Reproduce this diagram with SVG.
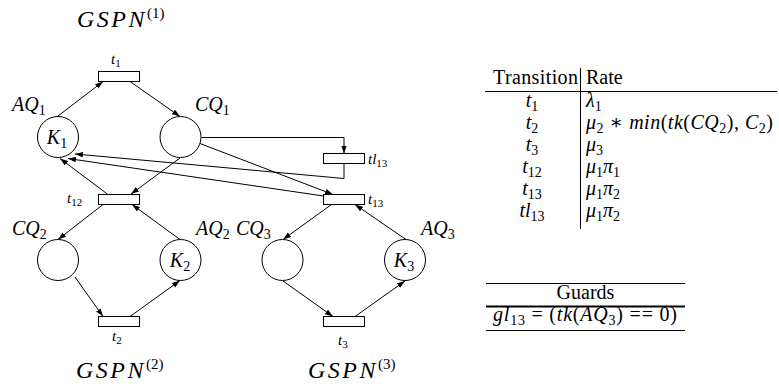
<svg xmlns="http://www.w3.org/2000/svg" width="779" height="392" viewBox="0 0 779 392" font-family="'Liberation Serif', 'DejaVu Serif', serif">
<style>
.pl{fill:#fff;stroke:#000;stroke-width:1}
.tr{fill:#fff;stroke:#000;stroke-width:1}
.arc{fill:none;stroke:#000;stroke-width:1;marker-end:url(#ah)}
.rule{stroke:#000;stroke-width:1;fill:none}
text{font-family:"Liberation Serif","DejaVu Serif",serif;fill:#000}
.m{font-style:italic}
.up{font-style:normal}
.pn{font-size:20px}
.tn{font-size:15px}
.tb{font-size:20px}
.g{font-size:24px;font-style:italic}
</style>
<defs>
<marker id="ah" markerWidth="9" markerHeight="6" refX="8" refY="2.75" orient="auto" markerUnits="userSpaceOnUse">
<path d="M0,0 L8,2.75 L0,5.5 z" fill="#000"/>
</marker>
</defs>

<g id="connectors">
<path class="arc" d="M58,116 L103,81.5"/>
<path class="arc" d="M130,81.5 L180,116.5"/>
<path class="arc" d="M180,158 L131,194"/>
<path class="arc" d="M108,194.5 L60,158.5"/>
<path class="arc" d="M103,204.5 L58,239.5"/>
<path class="arc" d="M180,239.5 L132,204.5"/>
<path class="arc" d="M75,277 L103,316.5"/>
<path class="arc" d="M130,316.5 L180,280.5"/>
<path class="arc" d="M331.5,204.5 L283,239.5"/>
<path class="arc" d="M406,239.5 L355,204.5"/>
<path class="arc" d="M283,281 L333,316.5"/>
<path class="arc" d="M355,316.5 L405,281"/>
<path class="arc" d="M201.5,137.5 H344 V153.5"/>
<path class="arc" d="M344,163.5 V178.5 L75,154"/>
<path class="arc" d="M323.5,196 L68,158.5"/>
<path class="arc" d="M200,143.5 L333,194.5"/>
</g>

<g id="AQ1">
<circle class="pl" cx="58" cy="137" r="20.5"/>
<text class="m pn" x="57" y="144" text-anchor="middle">K<tspan class="up" font-size="14" dy="4">1</tspan></text>
<text class="m pn" x="12" y="111">AQ<tspan class="up" font-size="14" dy="4">1</tspan></text>
</g>
<g id="CQ1">
<circle class="pl" cx="180.5" cy="137" r="20.5"/>
<text class="m pn" x="195" y="111">CQ<tspan class="up" font-size="14" dy="4">1</tspan></text>
</g>
<g id="t1">
<rect class="tr" x="98.5" y="71.5" width="41" height="10"/>
<text class="m tn" x="111" y="64">t<tspan class="up" font-size="11" dy="3">1</tspan></text>
</g>
<g id="t12">
<rect class="tr" x="98.5" y="194.5" width="41" height="10"/>
<text class="m tn" x="67" y="203">t<tspan class="up" font-size="11" dy="3">12</tspan></text>
</g>
<g id="CQ2">
<circle class="pl" cx="58" cy="260" r="20.5"/>
<text class="m pn" x="12" y="235">CQ<tspan class="up" font-size="14" dy="4">2</tspan></text>
</g>
<g id="AQ2">
<circle class="pl" cx="180.5" cy="260" r="20.5"/>
<text class="m pn" x="180" y="267" text-anchor="middle">K<tspan class="up" font-size="14" dy="4">2</tspan></text>
<text class="m pn" x="196" y="235">AQ<tspan class="up" font-size="14" dy="4">2</tspan></text>
</g>
<g id="t2">
<rect class="tr" x="98.5" y="316.5" width="41" height="10"/>
<text class="m tn" x="112" y="341">t<tspan class="up" font-size="11" dy="3">2</tspan></text>
</g>
<g id="tl13">
<rect class="tr" x="323.5" y="153.5" width="41" height="10"/>
<text class="m tn" x="368" y="164">tl<tspan class="up" font-size="11" dy="3">13</tspan></text>
</g>
<g id="t13">
<rect class="tr" x="323.5" y="194.5" width="41" height="10"/>
<text class="m tn" x="368" y="204">t<tspan class="up" font-size="11" dy="3">13</tspan></text>
</g>
<g id="CQ3">
<circle class="pl" cx="282.5" cy="260" r="20.5"/>
<text class="m pn" x="236" y="235">CQ<tspan class="up" font-size="14" dy="4">3</tspan></text>
</g>
<g id="AQ3">
<circle class="pl" cx="405" cy="260" r="20.5"/>
<text class="m pn" x="404" y="267" text-anchor="middle">K<tspan class="up" font-size="14" dy="4">3</tspan></text>
<text class="m pn" x="421" y="235">AQ<tspan class="up" font-size="14" dy="4">3</tspan></text>
</g>
<g id="t3">
<rect class="tr" x="323.5" y="316.5" width="41" height="10"/>
<text class="m tn" x="338" y="345">t<tspan class="up" font-size="11" dy="3">3</tspan></text>
</g>

<g id="titles">
<text class="g" x="77" y="27" letter-spacing="2.5">GSPN<tspan class="up" font-size="15" dy="-9" letter-spacing="0">(1)</tspan></text>
<text class="g" x="76" y="378" letter-spacing="2.5">GSPN<tspan class="up" font-size="15" dy="-9" letter-spacing="0">(2)</tspan></text>
<text class="g" x="308" y="378" letter-spacing="2.5">GSPN<tspan class="up" font-size="15" dy="-9" letter-spacing="0">(3)</tspan></text>
</g>

<g id="rate-table">
<line class="rule" x1="580.5" y1="68" x2="580.5" y2="229"/>
<line class="rule" x1="485" y1="91.5" x2="777" y2="91.5"/>
<text class="tb" x="535.5" y="84" text-anchor="middle" textLength="85">Transition</text>
<text class="tb" x="586" y="84">Rate</text>
<text class="tb m" x="532" y="107" text-anchor="middle">t<tspan class="up" font-size="14" dy="4">1</tspan></text>
<text class="tb m" x="532" y="129" text-anchor="middle">t<tspan class="up" font-size="14" dy="4">2</tspan></text>
<text class="tb m" x="532" y="151" text-anchor="middle">t<tspan class="up" font-size="14" dy="4">3</tspan></text>
<text class="tb m" x="532" y="173" text-anchor="middle">t<tspan class="up" font-size="14" dy="4">12</tspan></text>
<text class="tb m" x="532" y="195" text-anchor="middle">t<tspan class="up" font-size="14" dy="4">13</tspan></text>
<text class="tb m" x="532" y="217" text-anchor="middle">tl<tspan class="up" font-size="14" dy="4">13</tspan></text>
<text class="tb m" x="586" y="107">λ<tspan class="up" font-size="14" dy="4">1</tspan></text>
<text class="tb m" x="586" y="129" textLength="187">μ<tspan class="up" font-size="14" dy="4">2</tspan><tspan class="up" dy="-4"> ∗ </tspan>min<tspan class="up">(</tspan>tk<tspan class="up">(</tspan>CQ<tspan class="up" font-size="14" dy="4">2</tspan><tspan class="up" dy="-4">), </tspan>C<tspan class="up" font-size="14" dy="4">2</tspan><tspan class="up" dy="-4">)</tspan></text>
<text class="tb m" x="586" y="151">μ<tspan class="up" font-size="14" dy="4">3</tspan></text>
<text class="tb m" x="586" y="173">μ<tspan class="up" font-size="14" dy="4">1</tspan><tspan dy="-4">π</tspan><tspan class="up" font-size="14" dy="4">1</tspan></text>
<text class="tb m" x="586" y="195">μ<tspan class="up" font-size="14" dy="4">1</tspan><tspan dy="-4">π</tspan><tspan class="up" font-size="14" dy="4">2</tspan></text>
<text class="tb m" x="586" y="217">μ<tspan class="up" font-size="14" dy="4">1</tspan><tspan dy="-4">π</tspan><tspan class="up" font-size="14" dy="4">2</tspan></text>
</g>

<g id="guards-table">
<line class="rule" x1="486" y1="283.5" x2="685" y2="283.5"/>
<text class="tb" x="585.5" y="299" text-anchor="middle">Guards</text>
<line x1="486" y1="306.5" x2="685" y2="306.5" stroke="#000" stroke-width="2"/>
<text class="tb m" x="493" y="321" textLength="184">gl<tspan class="up" font-size="14" dy="4">13</tspan><tspan class="up" dy="-4"> = (</tspan>tk<tspan class="up">(</tspan>AQ<tspan class="up" font-size="14" dy="4">3</tspan><tspan class="up" dy="-4">) == 0)</tspan></text>
<line class="rule" x1="486" y1="330.5" x2="685" y2="330.5"/>
</g>
</svg>
